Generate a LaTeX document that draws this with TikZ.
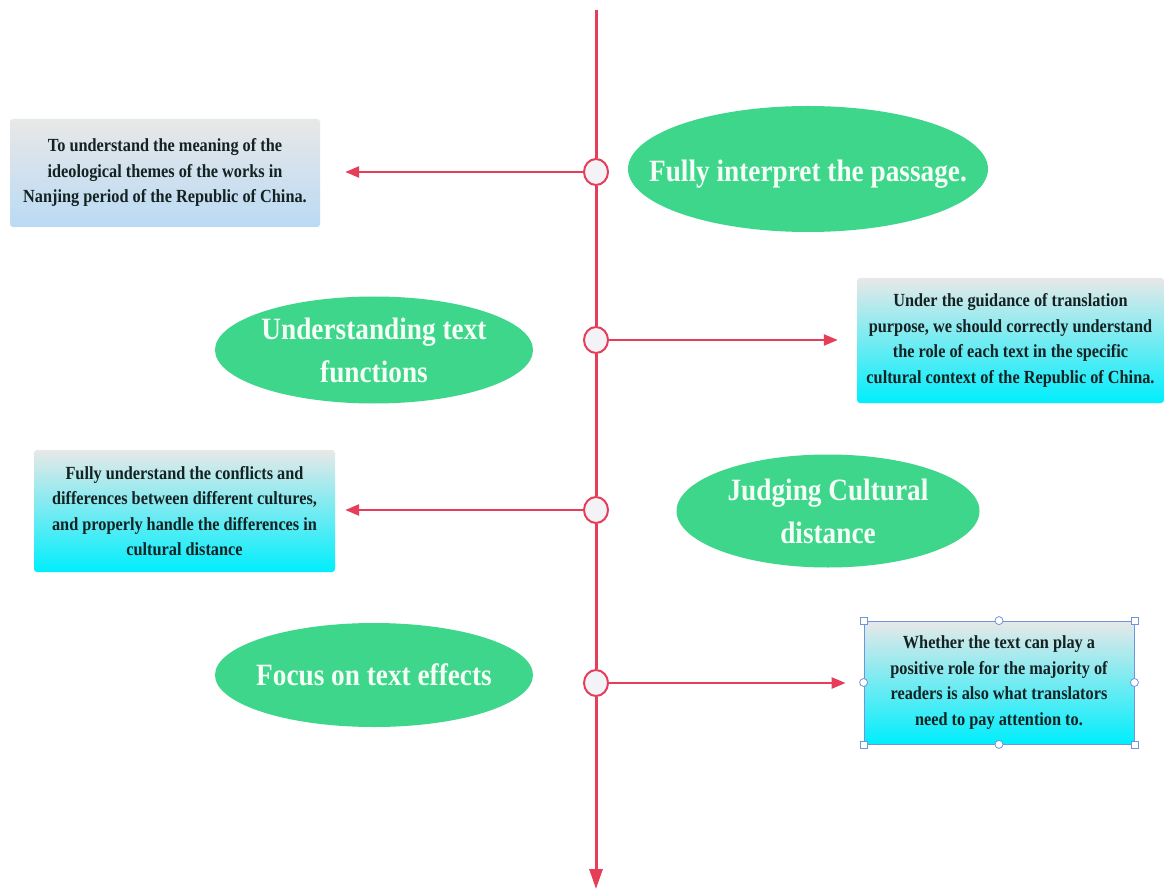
\documentclass[tikz,border=0pt]{standalone}
\usepackage{fontspec}
\setmainfont{Liberation Serif}
\newfontfamily\cond{Liberation Serif}[FakeStretch=0.88]
\usetikzlibrary{shapes.geometric,arrows.meta}
\definecolor{redline}{RGB}{230,62,88}
\definecolor{greenell}{RGB}{62,214,139}
\definecolor{boxgray}{RGB}{232,232,232}
\definecolor{boxcyan}{RGB}{0,238,252}
\definecolor{boxblue}{RGB}{186,218,244}
\definecolor{boxtext}{RGB}{20,34,34}
\definecolor{handleblue}{RGB}{110,150,220}
\definecolor{circfill}{RGB}{242,242,247}
\definecolor{bubbletxt}{RGB}{244,255,246}
\begin{document}
\begin{tikzpicture}[x=1pt,y=-1pt,
  spine/.style={draw=redline,line width=3pt},
  branch/.style={draw=redline,line width=2.5pt,-{Triangle[length=14pt,width=11pt]}},
  hub/.style={ellipse,draw=redline,line width=2pt,fill=circfill,minimum width=24pt,minimum height=26pt,inner sep=0pt},
  bubble/.style={ellipse,fill=greenell,inner sep=0pt},
  bubbletext/.style={inner sep=0pt,text=bubbletxt,align=center,
    font=\cond\bfseries\fontsize{31}{43}\selectfont},
  infobox/.style={rectangle,rounded corners=3pt,inner sep=0pt,align=center,text=boxtext,
    top color=boxgray,bottom color=boxcyan,
    font=\cond\bfseries\fontsize{18.5}{25.5}\selectfont},
  sqhandle/.style={rectangle,draw=handleblue,fill=white,line width=0.8pt,minimum size=7pt,inner sep=0pt},
  rdhandle/.style={circle,draw=handleblue,fill=white,line width=0.8pt,minimum size=8pt,inner sep=0pt}
]
\useasboundingbox (0,0) rectangle (1164,890);
\fill[white] (0,0) rectangle (1164,890);

% green ellipses
\node[bubble,minimum width=360pt,minimum height=126pt] (e1) at (808,169) {};
\node[bubble,minimum width=318pt,minimum height=107pt] (e2) at (374,350) {};
\node[bubble,minimum width=303pt,minimum height=113pt] (e3) at (828,511) {};
\node[bubble,minimum width=318pt,minimum height=104pt] (e4) at (374,675) {};
\node[bubbletext] (t1) at ([yshift=-5pt]e1.center) {Fully interpret the passage.};
\node[bubbletext] (t2) at (e2.center) {Understanding text\\functions};
\node[bubbletext] (t3) at (e3.center) {Judging Cultural\\distance};
\node[bubbletext] (t4) at (e4.center) {Focus on text effects};

% spine
\coordinate (top) at (596,10);
\coordinate (bot) at (596,889);
\node[hub] (c1) at (596,172) {};
\node[hub] (c2) at (596,340) {};
\node[hub] (c3) at (596,510) {};
\node[hub] (c4) at (596,683) {};
\draw[spine] (top) -- (c1);
\draw[spine] (c1) -- (c2);
\draw[spine] (c2) -- (c3);
\draw[spine] (c3) -- (c4);
\draw[spine,-{Triangle[length=20pt,width=13pt]}] (c4) -- (bot);

% boxes
\node[infobox,bottom color=boxblue,minimum width=310pt,minimum height=108pt] (b1) at (165,173)
  {To understand the meaning of the\\ideological themes of the works in\\Nanjing period of the Republic of China.};
\node[infobox,minimum width=307pt,minimum height=125pt] (b2) at (1010.5,340.5)
  {Under the guidance of translation\\purpose, we should correctly understand\\the role of each text in the specific\\cultural context of the Republic of China.};
\node[infobox,minimum width=301pt,minimum height=122pt] (b3) at (184.5,511)
  {Fully understand the conflicts and\\differences between different cultures,\\and properly handle the differences in\\cultural distance};
\node[infobox,rounded corners=0pt,draw=handleblue,line width=0.8pt,minimum width=270pt,minimum height=123pt] (b4) at (999,682.5)
  {Whether the text can play a\\positive role for the majority of\\readers is also what translators\\need to pay attention to.};

% selection handles
\node[sqhandle] (h1) at (b4.north west) {};
\node[sqhandle] (h2) at (b4.north east) {};
\node[sqhandle] (h3) at (b4.south west) {};
\node[sqhandle] (h4) at (b4.south east) {};
\node[rdhandle] (h5) at (b4.north) {};
\node[rdhandle] (h6) at (b4.south) {};
\node[rdhandle] (h7) at (b4.west) {};
\node[rdhandle] (h8) at (b4.east) {};

% branches
\draw[branch,shorten >=25pt] (c1) -- (b1.east |- c1);
\draw[branch,shorten >=19pt] (c2) -- (b2.west |- c2);
\draw[branch,shorten >=10pt] (c3) -- (b3.east |- c3);
\draw[branch,shorten >=18pt] (c4) -- (b4.west |- c4);
\end{tikzpicture}
\end{document}
